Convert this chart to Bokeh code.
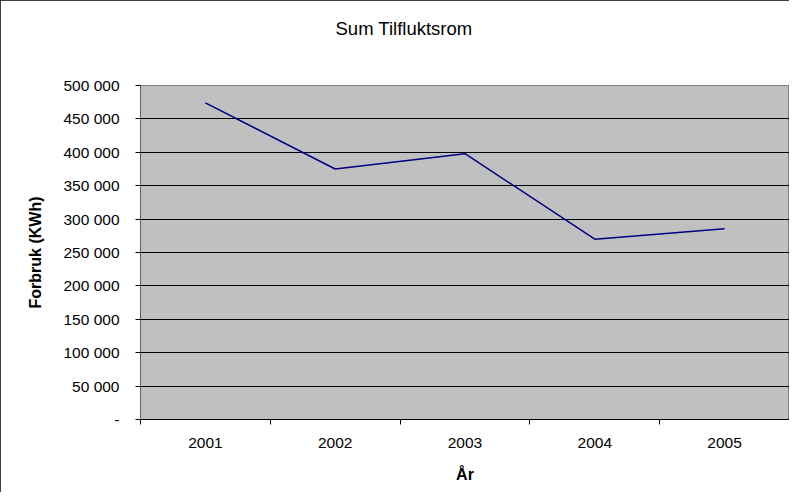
from bokeh.plotting import figure
from bokeh.models import Range1d, FixedTicker, Title
from bokeh.embed import file_html
from bokeh.resources import INLINE

years = [2001, 2002, 2003, 2004, 2005]
year_labels = ["2001", "2002", "2003", "2004", "2005"]
consumption = [474000, 375000, 398000, 270000, 285500]
y_ticks = [0, 50000, 100000, 150000, 200000, 250000, 300000, 350000, 400000, 450000, 500000]
y_tick_labels = ["-", "50 000", "100 000", "150 000", "200 000", "250 000",
                 "300 000", "350 000", "400 000", "450 000", "500 000"]
title_text = "Sum Tilfluktsrom"
x_title = "År"
y_title = "Forbruk (KWh)"

FONT = "Liberation Sans"
W, H = 789, 492

p = figure(width=W, height=H, output_backend="svg", toolbar_location=None,
           x_range=Range1d(years[0] - 0.5, years[-1] + 0.5),
           y_range=Range1d(y_ticks[0], y_ticks[-1]),
           min_border_left=140, min_border_right=0, min_border_top=85, min_border_bottom=73)
p.title = None
p.add_layout(Title(text=title_text + "\n \n ", align="left", offset=195, text_font=FONT,
                   text_font_size="18.5px", text_font_style="normal", text_color="black",
                   standoff=10), "above")

p.background_fill_color = "#C0C0C0"
p.border_fill_color = "white"
p.outline_line_color = "#808080"
p.outline_line_width = 1
p.styles = {"outline": "1px solid black", "outline-offset": "-1px"}

p.line(years, consumption, line_color="#000080", line_width=1.5)

# x axis
xa = p.xaxis[0]
xa.ticker = FixedTicker(ticks=years, minor_ticks=[y - 0.5 for y in years] + [years[-1] + 0.5])
xa.major_label_overrides = {y: l for y, l in zip(years, year_labels)}
xa.major_tick_out = 0
xa.major_tick_in = 0
xa.minor_tick_out = 5
xa.minor_tick_in = 0
xa.minor_tick_line_color = "black"
xa.axis_line_color = "black"
xa.major_label_text_font = FONT
xa.major_label_text_font_size = "15.5px"
xa.major_label_text_color = "black"
xa.major_label_standoff = 13
xa.axis_label = x_title
xa.axis_label_text_font = FONT
xa.axis_label_text_font_size = "16px"
xa.axis_label_text_font_style = "bold"
xa.axis_label_text_color = "black"
xa.axis_label_standoff = 15

# y axis
ya = p.yaxis[0]
ya.ticker = FixedTicker(ticks=y_ticks)
ya.major_label_overrides = {t: l for t, l in zip(y_ticks, y_tick_labels)}
ya.major_tick_out = 5
ya.major_tick_in = 0
ya.minor_tick_out = 0
ya.minor_tick_in = 0
ya.major_tick_line_color = "black"
ya.axis_line_color = "#606060"
ya.major_label_text_font = FONT
ya.major_label_text_font_size = "15.5px"
ya.major_label_text_color = "black"
ya.major_label_standoff = 16
ya.axis_label = y_title
ya.axis_label_text_font = FONT
ya.axis_label_text_font_size = "16px"
ya.axis_label_text_font_style = "bold"
ya.axis_label_text_color = "black"
ya.axis_label_standoff = 16

p.xgrid.visible = False
p.ygrid.grid_line_color = "black"
p.ygrid.grid_line_width = 1

open("out.html", "w").write(file_html(p, INLINE))
